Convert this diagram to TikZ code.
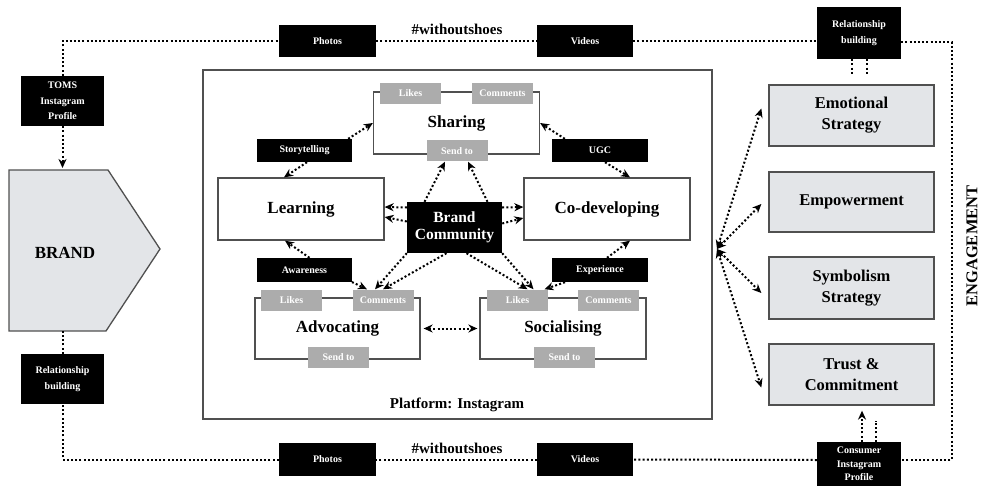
\documentclass[tikz,border=0pt]{standalone}
\usepackage{fontspec}
\setmainfont{Liberation Serif}
\usetikzlibrary{arrows.meta, positioning, calc}
\definecolor{panelgrey}{HTML}{E3E5E8}
\definecolor{edgegrey}{HTML}{505050}

\begin{document}
\begin{tikzpicture}[x=1pt, y=-1pt,
  dotline/.style={line width=2pt, dash pattern=on 2pt off 2.2pt, black},
  flow/.style={dotline, -{Stealth[length=9pt,width=8pt]}},
  twoway/.style={dotline, {Stealth[length=9pt,width=8pt]}-{Stealth[length=9pt,width=8pt]}},
  tagbox/.style={fill=black, text=white, inner sep=0pt, align=center, font=\bfseries\fontsize{10}{15.5}\selectfont},
  greybox/.style={fill=gray!65, text=white, inner sep=0pt, minimum width=61pt, minimum height=21pt, font=\bfseries\fontsize{10}{12}\selectfont},
  stage/.style={draw=edgegrey, line width=1.3pt, fill=white, inner sep=0pt, minimum width=166pt, minimum height=62pt, font=\bfseries\fontsize{17}{19}\selectfont},
  strategy/.style={draw=edgegrey, line width=1.3pt, fill=panelgrey, inner sep=0pt, align=center, minimum width=165pt, minimum height=61pt, font=\bfseries\fontsize{16.5}{21}\selectfont},
  heading/.style={font=\bfseries\fontsize{15}{17}\selectfont}
]
  \useasboundingbox (0,0) rectangle (981,497);

  % Brand block on the left
  \draw[edgegrey, line width=1.3pt, fill=panelgrey] (9,170) -- (108,170) -- (160,249) -- (106,331) -- (9,331) -- cycle;
  \node[font=\bfseries\fontsize{17}{19}\selectfont] (brand) at (65,253) {BRAND};
  \coordinate (brandtop) at (62.5,170);
  \coordinate (brandbot) at (62.5,331);

  % Outer loop labels
  \node[tagbox, minimum width=83pt, minimum height=50pt] (toms) at (62.5,101) {TOMS\\Instagram\\Profile};
  \node[tagbox, minimum width=83pt, minimum height=50pt] (relbrand) at (62.5,379) {Relationship\\building};
  \node[tagbox, minimum width=97pt, minimum height=32pt] (photostop) at (327.5,41) {Photos};
  \node[tagbox, minimum width=96pt, minimum height=32pt] (videostop) at (585,41) {Videos};
  \node[tagbox, minimum width=84pt, minimum height=52pt] (relcons) at (859,33) {Relationship\\building};
  \node[tagbox, minimum width=97pt, minimum height=33pt] (photosbot) at (327.5,459.5) {Photos};
  \node[tagbox, minimum width=96pt, minimum height=33pt] (videosbot) at (585,459.5) {Videos};
  \node[tagbox, minimum width=84pt, minimum height=44pt,
        font=\bfseries\fontsize{10}{13.5}\selectfont] (consumer) at (859,464) {Consumer\\Instagram\\Profile};
  \node[heading] (hashtop) at (457,29) {\#withoutshoes};
  \node[heading] (hashbot) at (457,448) {\#withoutshoes};
  \node[font=\bfseries\fontsize{16.5}{18}\selectfont, rotate=90] (engage) at (972,246) {ENGAGEMENT};

  % Outer dotted loop
  \coordinate (loopne) at (952,42);
  \coordinate (loopse) at (952,460);
  \draw[dotline] (toms.north) |- (photostop.west);
  \draw[dotline] (photostop.east) -- (videostop.west);
  \draw[dotline] (videostop.east) -- (relcons.west |- videostop.east);
  \draw[dotline] (relcons.east |- loopne) -- (loopne) -- (loopse) -- (consumer.east |- loopse);
  \draw[dotline] (consumer.west |- loopse) -- (videosbot.east);
  \draw[dotline] (videosbot.west) -- (photosbot.east);
  \draw[dotline] (photosbot.west) -| (relbrand.south);
  \draw[dotline] (relbrand.north) -- (brandbot);
  \draw[flow, shorten >=2pt] (toms.south) -- (brandtop);

  % Platform frame
  \draw[edgegrey, line width=1.3pt] (203,70) rectangle (712,419);
  \node[heading] (platform) at (457,405) {Platform: Instagram};

  % Stages of the community
  \node[stage] (sharing) at (456.5,123) {Sharing};
  \node[stage] (learning) at (301,209) {Learning};
  \node[stage] (codev) at (607,209) {Co-developing};
  \node[stage, minimum width=165pt, minimum height=61pt] (advoc) at (337.5,328.5) {Advocating};
  \node[stage, minimum height=61pt] (social) at (563,328.5) {Socialising};

  \node[greybox] (shlikes) at (410.5,93.5) {Likes};
  \node[greybox] (shcomm) at (502.5,93.5) {Comments};
  \node[greybox] (shsend) at (457,151) {Send to};
  \node[greybox] (adlikes) at (291.5,300) {Likes};
  \node[greybox] (adcomm) at (383,300) {Comments};
  \node[greybox] (adsend) at (338.5,357.5) {Send to};
  \node[greybox] (solikes) at (517.5,300) {Likes};
  \node[greybox] (socomm) at (608.5,300) {Comments};
  \node[greybox] (sosend) at (564.5,357.5) {Send to};

  \node[fill=black, text=white, inner sep=0pt, align=center, minimum width=95pt, minimum height=51pt,
        font=\bfseries\fontsize{15.5}{16.5}\selectfont] (bc) at (454.5,227.5) {Brand\\Community};

  \node[tagbox, minimum width=95pt, minimum height=23pt] (story) at (304.5,150.5) {Storytelling};
  \node[tagbox, minimum width=96pt, minimum height=23pt] (ugc) at (600,150.5) {UGC};
  \node[tagbox, minimum width=95pt, minimum height=24pt] (aware) at (304.5,270) {Awareness};
  \node[tagbox, minimum width=96pt, minimum height=24pt] (exper) at (600,270) {Experience};

  % Arrows between the stages
  \draw[flow] ([xshift=2.5pt]story.south) -- ([xshift=-17pt]learning.north);
  \draw[flow] ([xshift=-4pt]story.north east) -- (sharing.west);
  \draw[flow] ([xshift=13pt]ugc.north west) -- (sharing.east);
  \draw[flow] ([xshift=5pt]ugc.south) -- ([xshift=23pt]codev.north);
  \draw[flow] ([xshift=5pt]aware.north) -- ([xshift=-16pt]learning.south);
  \draw[flow] ([xshift=-4pt,yshift=2pt]aware.south east) -- ([xshift=-16pt]adcomm.north);
  \draw[flow] ([xshift=7pt]exper.north) -- ([xshift=23pt]codev.south);
  \draw[flow] ([xshift=-35pt]exper.south) -- ([xshift=27pt]solikes.north);
  \draw[flow] ([xshift=-30pt]bc.north) -- ([xshift=-12pt]shsend.south);
  \draw[flow] ([xshift=33pt]bc.north) -- ([xshift=11pt]shsend.south);
  \draw[flow] ([yshift=20pt]bc.west) -- ([yshift=2pt]learning.east);
  \draw[flow] ([yshift=6pt]bc.west) -- ([yshift=-8pt]learning.east);
  \draw[flow] ([yshift=20pt]bc.east) -- ([yshift=2pt]codev.west);
  \draw[flow] ([yshift=4pt]bc.east) -- ([yshift=-9pt]codev.west);
  \draw[flow] (bc.south west) -- ([xshift=-8pt]adcomm.north);
  \draw[flow] ([xshift=-8pt]bc.south) -- (adcomm.north);
  \draw[flow] ([xshift=12pt]bc.south) -- ([xshift=10pt]solikes.north);
  \draw[flow] (bc.south east) -- ([xshift=16pt]solikes.north);
  \draw[twoway, shorten <=3pt, shorten >=2pt] (advoc.east) -- (social.west);

  % Engagement strategies on the right
  \node[strategy] (emo) at (851.5,115.5) {Emotional\\Strategy};
  \node[strategy, minimum height=60pt] (empower) at (851.5,202) {Empowerment};
  \node[strategy, minimum height=62pt] (symbol) at (851.5,288) {Symbolism\\Strategy};
  \node[strategy] (trust) at (851.5,374.5) {Trust \&\\Commitment};

  \coordinate (hub) at (717,249);
  \draw[twoway] (hub) -- ($(emo.west)+(-7,-7)$);
  \draw[twoway] (hub) -- ($(empower.west)+(-7,2)$);
  \draw[twoway] (hub) -- ($(symbol.west)+(-7,5)$);
  \draw[twoway] (hub) -- ($(trust.west)+(-7,13)$);

  \draw[dotline] ([xshift=-7pt]relcons.south) -- ([xshift=0.5pt,yshift=9pt]emo.north);
  \draw[dotline] ([xshift=8pt]relcons.south) -- ([xshift=15.5pt,yshift=9pt]emo.north);
  \draw[flow, shorten >=5pt] ([xshift=3pt]consumer.north) -- ([xshift=10.5pt]trust.south);
  \draw[dotline] ([xshift=17pt]consumer.north) -- ([xshift=24.5pt,yshift=-15pt]trust.south);
\end{tikzpicture}
\end{document}
